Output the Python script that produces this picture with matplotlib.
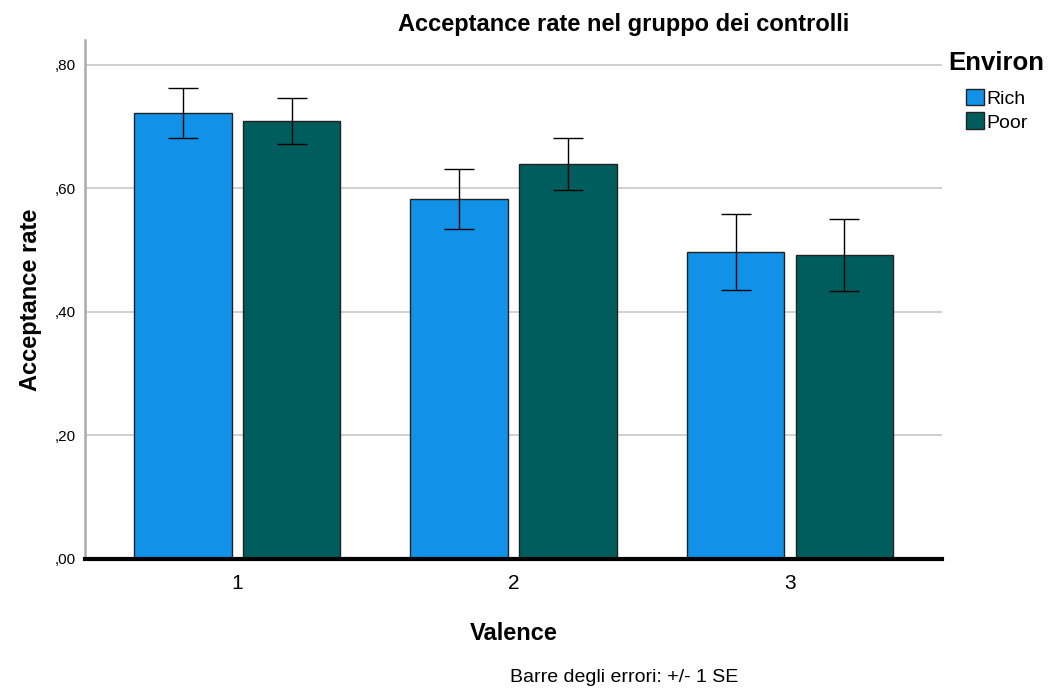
import numpy as np
import matplotlib.pyplot as plt
from matplotlib.patches import Patch

plt.rcParams['font.family'] = ['Liberation Sans', 'DejaVu Sans']

# --- data ---
valence = ["1", "2", "3"]
rich = [0.722, 0.583, 0.497]
poor = [0.709, 0.640, 0.492]
rich_se = [0.040, 0.048, 0.061]
poor_se = [0.037, 0.042, 0.058]
yticks = [0.0, 0.2, 0.4, 0.6, 0.8]
ytick_labels = [",00", ",20", ",40", ",60", ",80"]

c_rich = "#1192e8"
c_poor = "#005d5d"

fig = plt.figure(figsize=(10.48, 6.93), dpi=100)
ax = fig.add_axes([0.0811, 0.1934, 0.8178, 0.7489])

x = np.arange(1, len(valence) + 1)
w = 0.354
off = 0.197

ax.bar(x - off, rich, w, color=c_rich, edgecolor="#222222", linewidth=1.0, zorder=3)
ax.bar(x + off, poor, w, color=c_poor, edgecolor="#222222", linewidth=1.0, zorder=3)
ax.errorbar(x - off, rich, yerr=rich_se, fmt="none", ecolor="black",
            elinewidth=1.0, capsize=10.5, capthick=1.0, zorder=4)
ax.errorbar(x + off, poor, yerr=poor_se, fmt="none", ecolor="black",
            elinewidth=1.0, capsize=10.5, capthick=1.0, zorder=4)

ax.set_xlim(0.45, 3.55)
ax.set_ylim(0, 0.8405)
ax.set_yticks(yticks)
ax.set_yticklabels(ytick_labels, fontsize=11)
ax.set_xticks(x)
ax.set_xticklabels(valence, fontsize=15)
ax.tick_params(axis="both", length=0)
ax.tick_params(axis="y", pad=6.5)
ax.tick_params(axis="x", pad=11)
ax.yaxis.grid(True, color="#c8c8c8", linewidth=1.2, zorder=0)
ax.set_axisbelow(True)

for s in ["top", "right"]:
    ax.spines[s].set_visible(False)
ax.spines["left"].set_color("#aaaaaa")
ax.spines["left"].set_linewidth(1.8)
ax.spines["bottom"].set_color("black")
ax.spines["bottom"].set_linewidth(3.0)
ax.spines["bottom"].set_zorder(5)

fig.text(0.5954, 1 - 24 / 693, "Acceptance rate nel gruppo dei controlli",
         fontsize=17, fontweight="bold", ha="center", va="center")
ax.set_ylabel("Acceptance rate", fontsize=17, fontweight="bold", labelpad=9)
ax.set_xlabel("Valence", fontsize=17, fontweight="bold", labelpad=21)

fig.text(948 / 1048, 1 - 63 / 693, "Environ", fontsize=18.5,
         fontweight="bold", ha="left", va="center")
handles = [Patch(facecolor=c_rich, edgecolor="#222222", label="Rich"),
           Patch(facecolor=c_poor, edgecolor="#222222", label="Poor")]
fig.legend(handles=handles, loc="upper left",
           bbox_to_anchor=(950 / 1048, 1 - 73 / 693), frameon=False,
           fontsize=14, handlelength=0.95, handleheight=0.95,
           handletextpad=0.12, labelspacing=0.25, borderpad=0.3)

fig.text(0.5954, 1 - 678 / 693, "Barre degli errori: +/- 1 SE",
         ha="center", va="center", fontsize=14)

fig.savefig("out.png", dpi=100)
